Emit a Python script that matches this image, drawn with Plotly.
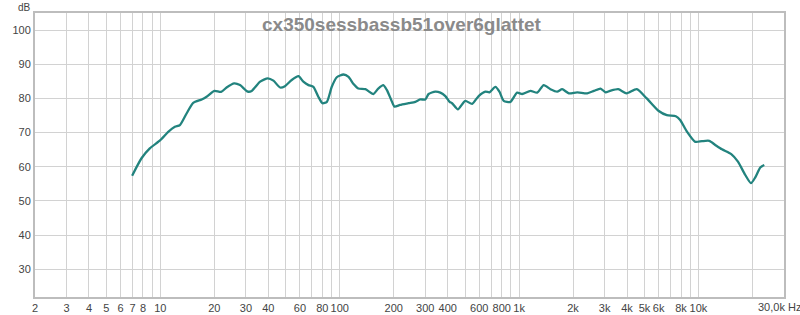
import plotly.graph_objects as go
import numpy as np

freq_hz = [6.96, 7.85, 8.73, 10.0, 11.1, 12.05, 12.85, 14.0, 15.25, 17.0, 18.1, 20.0, 21.8, 23.4,
           25.8, 27.8, 30.7, 32.3, 36.0, 39.7, 42.7, 46.5, 49.5, 54.0, 58.9, 62.7, 67.0, 71.3,
           76.0, 80.1, 84.8, 90.3, 96.3, 105, 112, 119.4, 127, 139, 154, 164, 175, 183, 194,
           202, 217, 242, 264, 281, 300, 313, 341, 364, 388, 410, 423, 456, 501, 547, 595, 649,
           683, 738, 777, 821, 895, 975, 1040, 1157, 1262, 1372, 1496, 1631, 1739, 1893, 2109,
           2399, 2613, 2847, 3035, 3210, 3572, 3979, 4529, 5150, 5983, 6668, 7482, 7909, 8630,
           9600, 10460, 11490, 12410, 13530, 15240, 16610, 18250, 19630, 20750, 22130, 23290]
spl_db = [57.4, 62.5, 65.4, 67.8, 70.3, 71.7, 72.2, 75.6, 78.7, 79.7, 80.5, 82.2, 81.9, 83.2,
          84.4, 83.9, 82.0, 82.2, 84.9, 85.9, 85.2, 83.2, 83.6, 85.4, 86.5, 84.9, 83.9, 83.4,
          80.5, 78.6, 79.0, 83.4, 86.2, 87.0, 86.3, 84.2, 82.9, 82.7, 81.3, 82.9, 83.9, 82.5, 79.5,
          77.6, 78.1, 78.6, 79.0, 79.7, 79.7, 81.3, 82.0, 81.7, 80.7, 79.0, 78.6, 76.8, 79.3, 78.4,
          80.7, 82.0, 81.8, 83.4, 82.0, 79.3, 79.0, 81.7, 81.3, 82.2, 81.7, 83.9, 82.7, 82.0, 82.7,
          81.5, 81.8, 81.5, 82.2, 82.9, 81.8, 82.2, 82.7, 81.5, 82.7, 80.0, 76.4, 75.1, 74.8, 73.7,
          70.3, 67.3, 67.5, 67.6, 66.4, 65.1, 63.7, 61.5, 57.6, 55.2, 56.9, 59.8, 60.5]

grid_freqs = [2, 3, 4, 5, 6, 7, 8, 9, 10, 20, 30, 40, 50, 60, 70, 80, 90, 100, 200, 300, 400,
              500, 600, 700, 800, 900, 1000, 2000, 3000, 4000, 5000, 6000, 7000, 8000, 9000,
              10000, 20000]
x_labels = {2: "2", 3: "3", 4: "4", 5: "5", 6: "6", 7: "7", 8: "8", 10: "10", 20: "20", 30: "30",
            40: "40", 60: "60", 80: "80", 100: "100", 200: "200", 300: "300", 400: "400",
            600: "600", 800: "800", 1000: "1k", 2000: "2k", 3000: "3k", 4000: "4k", 5000: "5k",
            6000: "6k", 8000: "8k", 10000: "10k"}
y_ticks = [30, 40, 50, 60, 70, 80, 90, 100]
title_text = "cx350sessbassb51over6glattet"

fig = go.Figure()
fig.add_trace(go.Scatter(x=freq_hz, y=spl_db, mode="lines",
                         line=dict(color="#22837e", width=2.3, shape="spline", smoothing=0.6),
                         hoverinfo="skip", showlegend=False))

tick_font = dict(family="Liberation Sans, Arial, sans-serif", size=11, color="#444444")
fig.update_layout(
    width=800, height=315,
    margin=dict(l=35, r=16, t=13, b=18),
    paper_bgcolor="white", plot_bgcolor="white",
    xaxis=dict(type="log", range=[np.log10(2), np.log10(30000)],
               tickvals=grid_freqs, ticktext=[x_labels.get(f, "") for f in grid_freqs],
               showgrid=True, gridcolor="#d2d2d2", gridwidth=1,
               showline=True, linecolor="#bdbdbd", linewidth=2, mirror=True,
               ticks="", tickfont=tick_font, zeroline=False, fixedrange=True,
               automargin=False),
    yaxis=dict(range=[21.9, 105], tickvals=y_ticks,
               showgrid=True, gridcolor="#d2d2d2", gridwidth=1,
               showline=True, linecolor="#bdbdbd", linewidth=2, mirror=True,
               ticks="", tickfont=tick_font, zeroline=False, fixedrange=True,
               automargin=False),
    annotations=[
        dict(text="<b>" + title_text + "</b>", xref="paper", yref="paper", x=0.49, y=1.0,
             xanchor="center", yanchor="top", showarrow=False, yshift=1,
             font=dict(family="Liberation Sans, Arial, sans-serif", size=19, color="#8a8a8a")),
        dict(text="dB", xref="paper", yref="paper", x=-0.003, y=1.0, xanchor="right",
             yanchor="bottom", showarrow=False, yshift=-2,
             font=dict(family="Liberation Sans, Arial, sans-serif", size=10, color="#444444")),
        dict(text="30,0k Hz", xref="paper", yref="paper", x=1.0, y=0, xanchor="center",
             yanchor="top", showarrow=False, xshift=-5, yshift=-2,
             font=tick_font),
    ],
)
fig.write_html("out.html")
